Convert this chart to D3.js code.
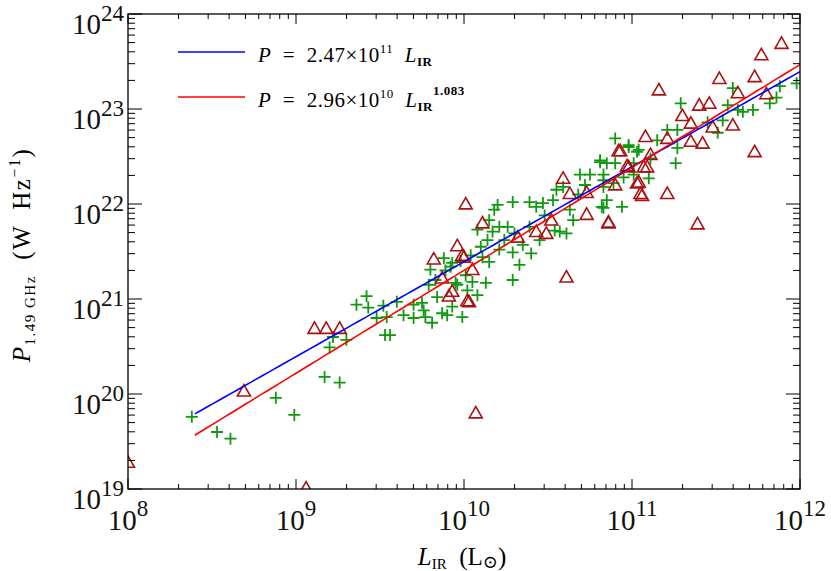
<!DOCTYPE html>
<html><head><meta charset="utf-8">
<script src="https://cdn.jsdelivr.net/npm/d3@7"></script>
<style>body{margin:0;background:#fff}text{font-family:"Liberation Serif","DejaVu Serif",serif}</style>
</head><body><svg id="c" width="831" height="571"></svg>
<script>
// log10 values of L_IR (Lsun) and P_1.49GHz (W/Hz)
const triLogL=[8.69,9.11,9.18,9.26,9.82,9.87,9.91,9.93,9.96,9.99,10.02,10.05,10.07,9.06,8.00,10.01,10.11,10.00,10.03,10.59,10.63,10.73,10.73,10.86,10.61,10.32,10.43,10.49,10.52,10.92,10.97,11.08,11.04,11.06,11.09,11.89,11.77,11.73,11.52,11.16,11.63,11.80,11.40,11.46,11.30,11.35,11.60,11.48,11.35,11.42,11.73,10.93,11.21,11.11,10.98,11.07,11.03,10.90,11.05,11.21,10.86,11.39];
const triLogP=[20.03,20.69,20.69,20.69,21.42,21.22,21.03,21.08,21.56,21.46,20.98,21.31,19.80,19.01,19.28,22.00,21.80,21.44,20.97,22.27,22.11,22.12,21.89,21.80,21.23,21.65,21.71,21.69,21.83,22.56,22.40,22.71,22.23,22.09,22.39,23.69,23.57,23.34,23.32,23.20,23.17,23.16,23.04,23.06,22.93,22.85,22.83,22.81,22.66,22.64,22.55,22.56,22.69,22.52,22.39,22.39,22.22,22.20,22.11,22.11,21.81,21.79];
const plusLogL=[8.38,8.53,8.61,8.88,8.99,9.17,9.26,9.20,9.22,9.30,9.36,9.42,9.43,9.48,9.52,9.53,9.56,9.54,9.60,9.64,9.70,9.70,9.75,9.76,9.77,9.81,9.80,9.79,9.84,9.87,9.88,9.90,9.93,9.93,9.96,9.99,10.01,10.02,10.05,10.08,9.92,9.95,10.13,10.10,10.14,10.17,10.20,10.18,10.21,10.26,10.29,10.29,10.33,10.29,10.40,10.39,10.43,10.47,10.53,10.55,10.59,10.63,10.65,10.61,10.57,10.69,10.75,10.81,10.83,10.82,10.85,10.89,10.94,10.90,10.98,11.03,11.01,10.39,10.11,10.08,10.15,11.29,11.60,11.57,11.63,11.72,11.66,11.88,11.86,11.82,11.98,11.45,11.51,11.54,11.27,11.21,11.15,11.27,11.26,10.98,11.04,11.11,10.81,10.85,10.90,10.83,10.95,11.01,11.10,10.83,10.83,9.83,9.89,9.98,10.04,10.15,10.21,10.24,10.30,10.35,10.45,10.48,10.54,10.68,10.72];
const plusLogP=[19.76,19.60,19.53,19.96,19.78,20.18,20.12,20.49,20.60,20.57,20.94,21.03,20.91,20.80,20.93,20.62,20.62,20.81,20.97,20.83,20.80,20.94,20.96,20.88,20.81,20.75,21.31,21.15,21.02,20.85,21.43,20.83,20.92,21.38,21.15,20.81,21.25,21.09,21.18,21.04,21.34,21.17,21.17,21.55,21.62,21.71,21.99,21.94,21.76,21.76,22.02,21.49,21.36,21.20,21.48,22.02,21.97,22.01,22.04,22.15,22.18,21.94,21.83,21.69,21.71,22.31,22.31,22.44,22.25,21.97,22.04,22.22,21.97,22.69,22.62,22.55,22.43,21.76,21.44,21.73,21.83,23.06,23.22,23.04,22.99,22.99,22.97,23.24,23.12,23.06,23.27,22.86,22.75,22.88,22.78,22.78,22.67,22.59,22.43,22.60,22.57,22.48,22.46,22.43,22.43,22.31,22.28,22.31,22.27,22.18,21.96,21.20,21.30,21.40,21.46,21.39,21.52,21.62,21.69,21.57,21.62,21.88,21.72,22.10,22.20];
const fitRange=[2.5e8,1e12];
const fitBlue={a:2.47e11,b:1.0}, fitRed={a:2.96e10,b:1.083};
const xTickExp=[8,9,10,11,12], yTickExp=[19,20,21,22,23,24];

const svg=d3.select("#c");
const L=128,R=800,T=14,B=489;
const x=d3.scaleLog().domain([1e8,1e12]).range([L,R]);
const y=d3.scaleLog().domain([1e19,1e24]).range([B,T]);
svg.append("clipPath").attr("id","cp").append("rect").attr("x",L).attr("y",T).attr("width",R-L).attr("height",B-T);
const pg=svg.append("g").attr("clip-path","url(#cp)");

function fitLine(f,col){
  const pts=d3.range(0,101).map(i=>{const l=Math.log10(fitRange[0])+i/100*(Math.log10(fitRange[1])-Math.log10(fitRange[0]));const L10=Math.pow(10,l);return [x(L10),y(f.a*Math.pow(L10,f.b))];});
  pg.append("path").attr("d",d3.line()(pts)).attr("fill","none").attr("stroke",col).attr("stroke-width",1.6);
}
plusLogL.forEach((l,i)=>{
  const cx=x(Math.pow(10,l)),cy=y(Math.pow(10,plusLogP[i])),s=6;
  pg.append("path").attr("d",`M${cx-s},${cy}H${cx+s}M${cx},${cy-s}V${cy+s}`).attr("stroke","#119911").attr("stroke-width",1.8).attr("fill","none");
});
triLogL.forEach((l,i)=>{
  const cx=x(Math.pow(10,l)),cy=y(Math.pow(10,triLogP[i])),s=6.5;
  pg.append("path").attr("d",`M${cx},${cy-s}L${cx+s},${cy+s*0.75}L${cx-s},${cy+s*0.75}Z`).attr("stroke","#aa1111").attr("stroke-width",1.6).attr("fill","none");
});
fitLine(fitBlue,"#0000ff");
fitLine(fitRed,"#ff0000");

svg.append("rect").attr("x",L).attr("y",T).attr("width",R-L).attr("height",B-T).attr("fill","none").attr("stroke","#000").attr("stroke-width",1.3);
const ax=svg.append("g").attr("stroke","#000").attr("stroke-width",1);
function minors(lo,hi){const a=[];for(let e=lo;e<hi;e++)for(let k=1;k<10;k++)a.push([k*Math.pow(10,e),k===1]);a.push([Math.pow(10,hi),true]);return a;}
minors(8,12).forEach(([v,maj])=>{const px=x(v),len=maj?10:5;
  ax.append("line").attr("x1",px).attr("x2",px).attr("y1",B).attr("y2",B-len);
  ax.append("line").attr("x1",px).attr("x2",px).attr("y1",T).attr("y2",T+len);});
minors(19,24).forEach(([v,maj])=>{const py=y(v),len=maj?14:7;
  ax.append("line").attr("y1",py).attr("y2",py).attr("x1",L).attr("x2",L+len);
  ax.append("line").attr("y1",py).attr("y2",py).attr("x1",R).attr("x2",R-len);});

xTickExp.forEach(e=>{
  const t=svg.append("text").attr("x",x(Math.pow(10,e))).attr("y",530).attr("text-anchor","middle").attr("font-size",29).attr("fill","#111");
  t.append("tspan").text("10");
  t.append("tspan").attr("dy",-14).attr("font-size",23).text(e);
});
yTickExp.forEach(e=>{
  const t=svg.append("text").attr("x",124).attr("y",y(Math.pow(10,e))+20).attr("text-anchor","end").attr("font-size",29).attr("fill","#111");
  t.append("tspan").text("10");
  t.append("tspan").attr("dy",-13).attr("font-size",23).text(e);
});

const xt=svg.append("text").attr("x",462).attr("y",565).attr("text-anchor","middle").attr("font-size",25);
xt.append("tspan").attr("font-style","italic").text("L");
xt.append("tspan").attr("font-size",15).attr("dy",4).text("IR");
xt.append("tspan").attr("dy",-4).attr("xml:space","preserve").text("  (L");
xt.append("tspan").attr("font-size",18).attr("dy",3).text("⊙");
xt.append("tspan").attr("dy",-3).text(")");

const yt=svg.append("text").attr("transform","translate(30,255) rotate(-90)").attr("text-anchor","middle").attr("font-size",25).attr("letter-spacing",1.5);
yt.append("tspan").attr("font-style","italic").text("P");
yt.append("tspan").attr("font-size",15).attr("dy",5).text("1.49 GHz");
yt.append("tspan").attr("dy",-5).attr("xml:space","preserve").text("  (W  Hz");
yt.append("tspan").attr("font-size",16).attr("dy",-10).text("−1");
yt.append("tspan").attr("dy",10).text(")");

function legend(yy,col,coef,exp,pow){
  svg.append("line").attr("x1",178).attr("x2",245).attr("y1",yy).attr("y2",yy).attr("stroke",col).attr("stroke-width",1.6);
  const t=svg.append("text").attr("x",258).attr("y",yy+10).attr("font-size",21).attr("font-family","DejaVu Sans").attr("letter-spacing",0.5);
  t.append("tspan").attr("font-style","italic").text("P");
  t.append("tspan").attr("xml:space","preserve").text("  =  "+coef+"×10");
  t.append("tspan").attr("font-size",13).attr("dy",-9).text(exp);
  t.append("tspan").attr("dy",9).attr("xml:space","preserve").text("  ");
  t.append("tspan").attr("font-style","italic").text("L");
  t.append("tspan").attr("font-size",13).attr("font-weight","bold").attr("dy",4).text("IR");
  if(pow){t.append("tspan").attr("font-size",13).attr("font-weight","bold").attr("dy",-16).text(pow);}
}
legend(52,"#0000ff","2.47",fitBlue.a.toExponential().split("e+")[1],null);
legend(97,"#ff0000","2.96",fitRed.a.toExponential().split("e+")[1],String(fitRed.b));
</script></body></html>
